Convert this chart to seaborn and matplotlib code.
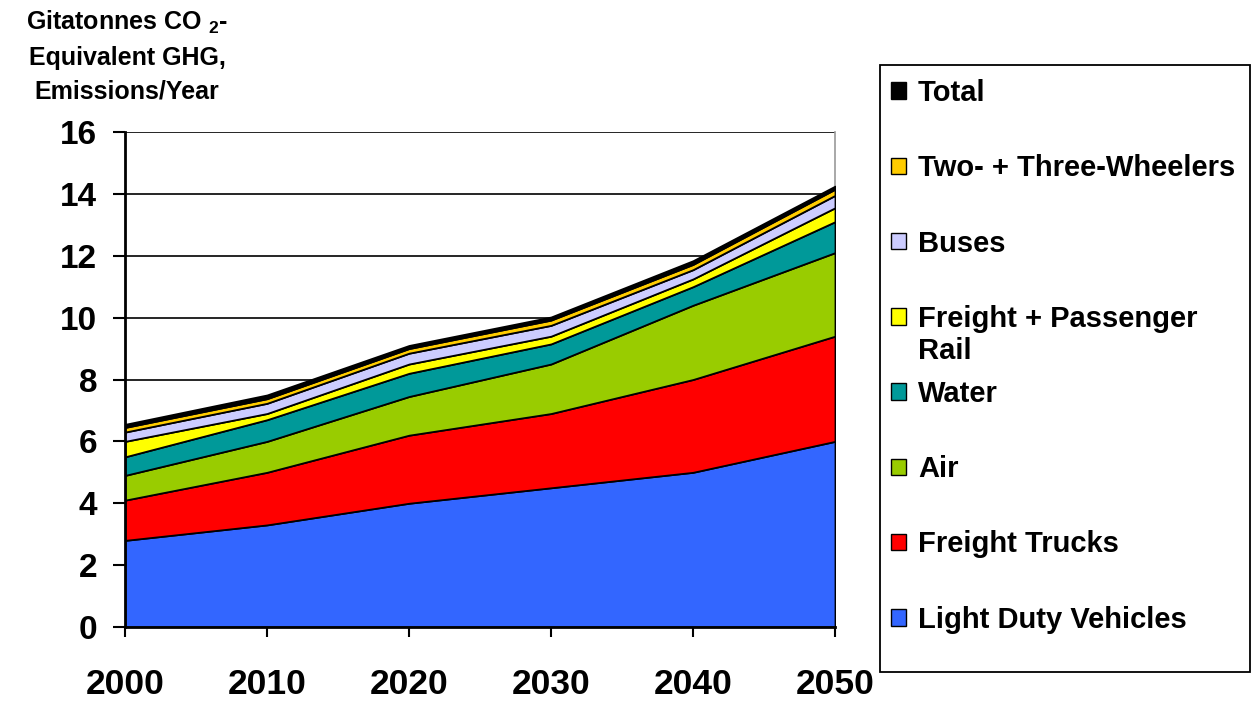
import numpy as np
import pandas as pd
import matplotlib
matplotlib.use("Agg")
import matplotlib.pyplot as plt
from matplotlib.patches import Rectangle
import seaborn as sns

years = [2000, 2010, 2020, 2030, 2040, 2050]
ldv = [2.8, 3.3, 4.0, 4.5, 5.0, 6.0]
freight_trucks = [1.3, 1.7, 2.2, 2.4, 3.0, 3.4]
air = [0.8, 1.0, 1.25, 1.6, 2.4, 2.7]
water = [0.6, 0.7, 0.75, 0.65, 0.6, 1.0]
rail = [0.5, 0.2, 0.3, 0.25, 0.25, 0.45]
buses = [0.3, 0.33, 0.35, 0.35, 0.3, 0.4]
two_three = [0.15, 0.15, 0.15, 0.17, 0.17, 0.2]
total = [0.1, 0.12, 0.1, 0.1, 0.12, 0.1]

series_names = ["Light Duty Vehicles", "Freight Trucks", "Air", "Water",
                "Freight + Passenger Rail", "Buses", "Two- + Three-Wheelers", "Total"]
colors = ["#3366FF", "#FF0000", "#99CC00", "#009999", "#FFFF00", "#CCCCFF", "#FFCC00", "#000000"]

df = pd.DataFrame({"Year": years, "Light Duty Vehicles": ldv, "Freight Trucks": freight_trucks,
                   "Air": air, "Water": water, "Freight + Passenger Rail": rail,
                   "Buses": buses, "Two- + Three-Wheelers": two_three, "Total": total})

sns.set_theme(style="white")
plt.rcParams['font.family'] = ['Liberation Sans', 'DejaVu Sans']
plt.rcParams['font.weight'] = 'bold'
plt.rcParams['text.color'] = 'black'
plt.rcParams['xtick.color'] = 'black'
plt.rcParams['ytick.color'] = 'black'
plt.rcParams['axes.labelcolor'] = 'black'
plt.rcParams['mathtext.fontset'] = 'custom'
plt.rcParams['mathtext.bf'] = 'Liberation Sans:bold'
plt.rcParams['mathtext.rm'] = 'Liberation Sans:bold'

fig = plt.figure(figsize=(12.51, 7.02), dpi=100)
ax = fig.add_axes([125/1251, 1-627/702, (835-125)/1251, (627-132)/702])

ax.stackplot(df["Year"], *[df[n] for n in series_names], colors=colors,
             edgecolor="black", linewidth=1.3, zorder=3)

ax.set_xlim(2000, 2050)
ax.set_ylim(0, 16)
ax.set_yticks(np.arange(0, 17, 2))
ax.set_xticks(years)
ax.yaxis.grid(True, color="black", linewidth=1.2, zorder=0)
ax.set_axisbelow(True)
for side in ["left", "bottom"]:
    ax.spines[side].set_color("black")
    ax.spines[side].set_linewidth(2)
    ax.spines[side].set_zorder(5)
ax.spines["top"].set_visible(False)
ax.spines["right"].set_color("#999999")
ax.spines["right"].set_linewidth(1.2)

ax.tick_params(axis="y", which="major", left=True, direction="out", length=9, width=1.5,
               labelsize=24, pad=11, colors="black")
ax.tick_params(axis="x", which="major", bottom=True, direction="out", length=7.5, width=1.5,
               labelsize=25.5, pad=22, colors="black")
for lab in ax.get_xticklabels() + ax.get_yticklabels():
    lab.set_fontweight("bold")

fig.text(127/1251, 1-9/702, "Gitatonnes CO $_\\mathbf{2}$-\nEquivalent GHG,\nEmissions/Year",
         ha="center", va="top", fontsize=18, fontweight="bold", linespacing=1.5,
         color="black")

# legend frame
fig.patches.append(Rectangle((880/1251, 1-672/702), (1250-880)/1251, (672-65)/702,
                             transform=fig.transFigure, facecolor="white",
                             edgecolor="black", linewidth=1.3))

handles = [Rectangle((0, 0), 1, 1, facecolor=c, edgecolor="black", linewidth=1.0)
           for c in colors]
labels = list(series_names)
labels[4] = "Freight + Passenger"
leg = fig.legend(handles[::-1], labels[::-1], loc="upper left",
                 bbox_to_anchor=(891/1251, 1-79/702), frameon=False,
                 handlelength=0.5, handleheight=0.5,
                 handletextpad=0.42, labelspacing=1.62, borderpad=0, borderaxespad=0,
                 prop={"weight": "bold", "size": 21})
for t in leg.get_texts():
    t.set_color("black")

fig.canvas.draw()
rend = fig.canvas.get_renderer()
for t in leg.get_texts():
    if t.get_text() == "Freight + Passenger":
        bb = t.get_window_extent(rend)
        fig.text(bb.x0/fig.bbox.width, (bb.y0 - 32)/fig.bbox.height, "Rail",
                 fontsize=21, fontweight="bold", ha="left", va="bottom", color="black")

fig.savefig("out.png", dpi=100)
